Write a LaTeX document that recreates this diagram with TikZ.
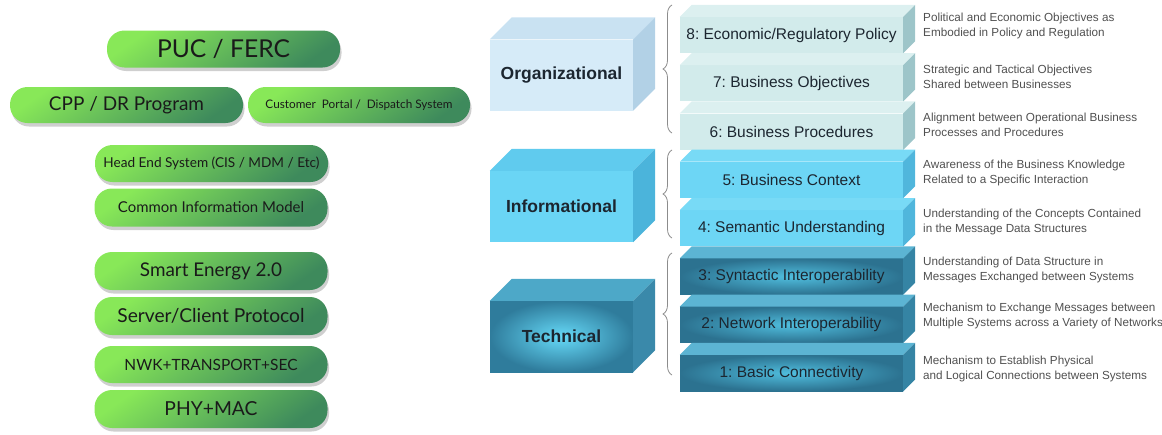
\documentclass[tikz,border=0pt]{standalone}
\usepackage{fontspec}
\usepackage{graphicx}
\setmainfont{Liberation Sans}
\newfontfamily\pillfont{Lato}
\usetikzlibrary{shadows,decorations.pathreplacing}
\frenchspacing
\definecolor{pillA}{HTML}{88E858}
\definecolor{pillB}{HTML}{3E8A5C}
\definecolor{pilltext}{HTML}{1A1A1A}
\definecolor{orgF}{HTML}{D6EBF8}
\definecolor{orgT}{HTML}{C9E2F2}
\definecolor{orgR}{HTML}{B2D1E6}
\definecolor{orgRowF}{HTML}{D2EBEB}
\definecolor{orgRowT}{HTML}{DCF0F0}
\definecolor{orgRowR}{HTML}{9DC5C9}
\definecolor{infF}{HTML}{6AD5F5}
\definecolor{infT}{HTML}{60CBEE}
\definecolor{infR}{HTML}{4BB4DB}
\definecolor{infRowF}{HTML}{6DD6F5}
\definecolor{infRowT}{HTML}{78DAF6}
\definecolor{infRowR}{HTML}{50B6DC}
\definecolor{tecIn}{HTML}{66DAF8}
\definecolor{tecOut}{HTML}{2F7C9C}
\definecolor{tecT}{HTML}{4DA8C8}
\definecolor{tecR}{HTML}{3A89AA}
\definecolor{tecRowIn}{HTML}{50BEDE}
\definecolor{tecRowOut}{HTML}{2C7290}
\definecolor{tecRowT}{HTML}{5CB4D3}
\definecolor{tecRowR}{HTML}{3584A4}
\definecolor{desctext}{HTML}{505050}
\definecolor{rowtext}{HTML}{1C2630}
\definecolor{bracec}{HTML}{8C8C8C}

\newcommand\ptxt[2]{\resizebox{#1pt}{!}{#2}}
\newcommand\cubefaces[4]{%
  \fill[#3] (#1.north west) -- ++(#2,-#2) -- ([shift={(#2,-#2)}]#1.north east) -- (#1.north east) -- cycle;
  \fill[#4] (#1.north east) -- ++(#2,-#2) -- ([shift={(#2,-#2)}]#1.south east) -- (#1.south east) -- cycle;}

\begin{document}
\begin{tikzpicture}[x=1pt,y=-1pt,
  pill/.style={rounded corners=17.5pt, minimum width=233, minimum height=37, inner sep=0pt,
    top color=pillA, bottom color=pillB, shading angle=35,
    drop shadow={shadow xshift=1.5pt, shadow yshift=-3.5pt, opacity=0.38},
    font=\pillfont, text=pilltext},
  bigbox/.style={minimum width=143, minimum height=71, inner sep=0pt,
    font=\fontsize{17.5}{20}\selectfont\bfseries, text=rowtext},
  rowbox/.style={minimum width=223, minimum height=36, inner sep=0pt,
    font=\fontsize{15.5}{18}\selectfont, text=rowtext},
  desc/.style={anchor=west, align=left, inner sep=0pt,
    font=\fontsize{11.7}{15}\selectfont, text=desctext},
  curly/.style={draw=bracec, line width=0.8pt, decorate, decoration={brace, amplitude=9pt}},
]
\useasboundingbox (0,0) rectangle (1162,434);
\clip (0,0) rectangle (1162,434);

% left stack of pills
\node[pill] (puc) at (223.5,49) {\ptxt{133}{PUC / FERC}};
\node[pill, minimum height=36] (cpp) at (126.5,105) {\ptxt{155}{CPP / DR Program}};
\node[pill, minimum height=36, minimum width=222] (portal) at (359,105) {\ptxt{187}{Customer\ \ Portal /\ \ Dispatch System}};
\node[pill] (head) at (211.5,163.5) {\ptxt{216}{Head End System (CIS / MDM / Etc)}};
\node[pill, minimum height=38] (cim) at (211,207.5) {\ptxt{186}{Common Information Model}};
\node[pill, minimum height=38] (se) at (211,271) {\ptxt{142}{Smart Energy 2.0}};
\node[pill, minimum height=38] (scp) at (211,316) {\ptxt{187}{Server/Client Protocol}};
\node[pill] (nwk) at (211,364.5) {\ptxt{173}{NWK+TRANSPORT+SEC}};
\node[pill, minimum height=38] (phy) at (211,409) {\ptxt{93}{PHY+MAC}};

% big category boxes
\node[bigbox, fill=orgF] (org) at (561.5,75) {Organizational};
\cubefaces{org}{22}{orgT}{orgR}
\node[bigbox, fill=infF] (inf) at (561.5,206.5) {Informational};
\cubefaces{inf}{22}{infT}{infR}
\node[bigbox, inner color=tecIn, outer color=tecOut] (tec) at (561.5,336.5) {Technical};
\cubefaces{tec}{22}{tecT}{tecR}

% layer rows
\node[rowbox, fill=orgRowF] (r8) at (791.5,35) {8: Economic/Regulatory Policy};
\cubefaces{r8}{12}{orgRowT}{orgRowR}
\node[rowbox, fill=orgRowF] (r7) at (791.5,83.3) {7: Business Objectives};
\cubefaces{r7}{12}{orgRowT}{orgRowR}
\node[rowbox, fill=orgRowF] (r6) at (791.5,131.6) {6: Business Procedures};
\cubefaces{r6}{12}{orgRowT}{orgRowR}
\node[rowbox, fill=infRowF] (r5) at (791.5,179.9) {5: Business Context};
\cubefaces{r5}{12}{infRowT}{infRowR}
\node[rowbox, fill=infRowF] (r4) at (791.5,228.2) {4: Semantic Understanding};
\cubefaces{r4}{12}{infRowT}{infRowR}
\node[rowbox, inner color=tecRowIn, outer color=tecRowOut] (r3) at (791.5,276.5) {3: Syntactic Interoperability};
\cubefaces{r3}{12}{tecRowT}{tecRowR}
\node[rowbox, inner color=tecRowIn, outer color=tecRowOut] (r2) at (791.5,324.8) {2: Network Interoperability};
\cubefaces{r2}{12}{tecRowT}{tecRowR}
\node[rowbox, inner color=tecRowIn, outer color=tecRowOut] (r1) at (791.5,373.1) {1: Basic Connectivity};
\cubefaces{r1}{12}{tecRowT}{tecRowR}

% braces
\coordinate (bo1) at (672,133); \coordinate (bo2) at (672,5);
\coordinate (bi1) at (672,238); \coordinate (bi2) at (672,150);
\coordinate (bt1) at (672,375); \coordinate (bt2) at (672,253);
\draw[curly] (bo1) -- (bo2);
\draw[curly] (bi1) -- (bi2);
\draw[curly] (bt1) -- (bt2);

% descriptions
\node[desc] (d8) at (923,25.5) {Political and Economic Objectives as\\Embodied in Policy and Regulation};
\node[desc] (d7) at (923,77) {Strategic and Tactical Objectives\\Shared between Businesses};
\node[desc] (d6) at (923,125) {Alignment between Operational Business\\Processes and Procedures};
\node[desc] (d5) at (923,172.5) {Awareness of the Business Knowledge\\Related to a Specific Interaction};
\node[desc] (d4) at (923,222) {Understanding of the Concepts Contained\\in the Message Data Structures};
\node[desc] (d3) at (923,269.5) {Understanding of Data Structure in\\Messages Exchanged between Systems};
\node[desc] (d2) at (923,315.5) {Mechanism to Exchange Messages between\\Multiple Systems across a Variety of Networks};
\node[desc] (d1) at (923,369) {Mechanism to Establish Physical\\and Logical Connections between Systems};
\end{tikzpicture}
\end{document}
